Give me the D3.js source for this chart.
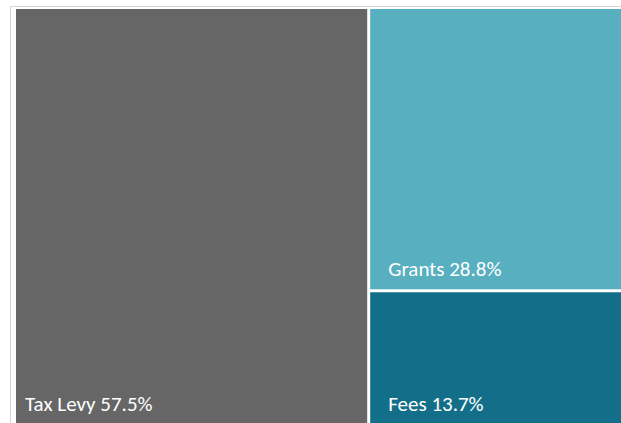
<!DOCTYPE html>
<html>
<head>
<meta charset="utf-8">
<script src="https://cdn.jsdelivr.net/npm/d3@7"></script>
<style>
  html, body { margin: 0; padding: 0; background: #ffffff; }
  svg { display: block; }
</style>
</head>
<body>
<svg id="chart" width="621" height="423"></svg>
<script>
const categories = ["Tax Levy", "Grants", "Fees"];
const shares = [57.5, 28.8, 13.7];
const colors = ["#666666", "#57afbf", "#136f89"];

const svg = d3.select("#chart");

// outer frame
svg.append("path")
  .attr("d", "M10.5,423 L10.5,6.5 L621,6.5")
  .attr("fill", "none")
  .attr("stroke", "#d4d4d4")
  .attr("stroke-width", 1);

const root = d3.hierarchy({
  children: categories.map((c, i) => ({ name: c, value: shares[i], color: colors[i] }))
}).sum(d => d.value || 0).sort((a, b) => b.value - a.value);

d3.treemap()
  .tile(d3.treemapSquarify)
  .size([613, 415])
  .paddingInner(3)
  .round(false)(root);

const g = svg.append("g").attr("transform", "translate(16,9)");

const cells = g.selectAll("g.cell")
  .data(root.leaves())
  .join("g")
  .attr("class", "cell");

cells.append("rect")
  .attr("x", d => d.x0)
  .attr("y", d => d.y0)
  .attr("width", d => d.x1 - d.x0)
  .attr("height", d => d.y1 - d.y0)
  .attr("fill", d => d.data.color);

cells.append("text")
  .attr("x", (d, i) => d.x0 + (i === 0 ? 9 : 18))
  .attr("y", d => d.y1 - 13)
  .attr("fill", "#ffffff")
  .attr("font-family", "Carlito, 'Liberation Sans Narrow', 'Open Sans', sans-serif")
  .attr("font-size", 21)
  .text(d => `${d.data.name} ${d3.format(".1f")(d.data.value)}%`);
</script>
</body>
</html>
